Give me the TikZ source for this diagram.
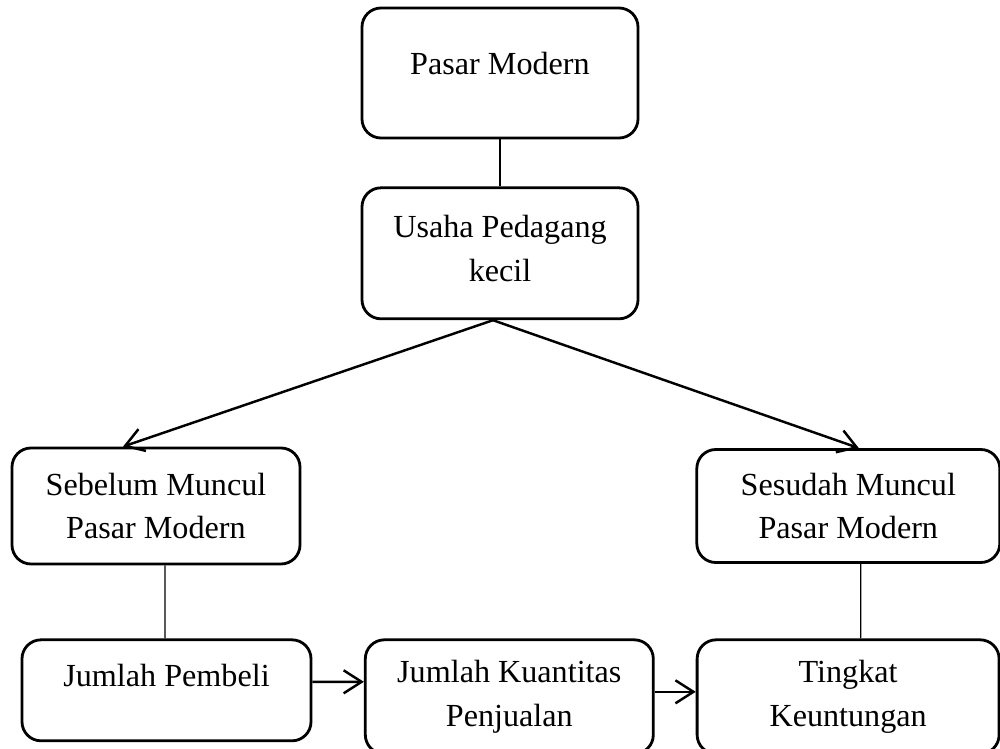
\documentclass[tikz,border=0pt]{standalone}
\usepackage{fontspec}
\setmainfont{Liberation Serif}
\usetikzlibrary{positioning, arrows.meta}
\tikzset{
box/.style={draw, line width=1.6pt, rounded corners=0.38cm, align=center, inner sep=0pt, font=\fontsize{18.3}{25}\selectfont}, % rounded boxes
link/.style={line width=0.7pt}, % plain connecting line
flow/.style={line width=1.4pt, -{Straight Barb[length=3.6mm,width=4.6mm]}}, % open arrow
}

\begin{document}
\begin{tikzpicture}
            \useasboundingbox (0,0) rectangle (20,-14.98);
            \node[box, minimum width=5.52cm, minimum height=2.6cm, text depth=0.4cm] (pasar) at (10,-1.46) {Pasar Modern};
            \node[box, below=0.94cm of pasar, minimum width=5.52cm, minimum height=2.62cm, text depth=0.2cm] (usaha) {Usaha Pedagang\\kecil};
            \node[box, minimum width=5.76cm, minimum height=2.32cm] (sebelum) at (3.12,-10.12) {Sebelum Muncul\\Pasar Modern};
            \node[box, right=7.88cm of sebelum, minimum width=6.06cm, minimum height=2.26cm] (sesudah) {Sesudah Muncul\\Pasar Modern};
            \node[box, below=1.46cm of sebelum, xshift=0.21cm, minimum width=5.78cm, minimum height=2.02cm, text depth=0.6cm] (pembeli) {Jumlah Pembeli};
            \node[box, right=1.03cm of pembeli.north east, anchor=north west, minimum width=5.76cm, minimum height=2.28cm] (kuantitas) {Jumlah Kuantitas\\Penjualan};
            \node[box, right=0.82cm of kuantitas.north east, anchor=north west, minimum width=6.04cm, minimum height=2.28cm] (tingkat) {Tingkat\\Keuntungan};
            \draw[link] (pasar.south) -- (usaha.north);
            \draw[flow] ([xshift=-0.14cm]usaha.south) -- ([xshift=-0.66cm]sebelum.north);
            \draw[flow] ([xshift=-0.14cm]usaha.south) -- ([xshift=0.21cm]sesudah.north);
            \draw[link] ([xshift=0.18cm]sebelum.south) -- ([xshift=-0.03cm]pembeli.north);
            \draw[link] ([xshift=0.25cm]sesudah.south) -- ([xshift=0.25cm]tingkat.north);
            \draw[flow] ([yshift=0.17cm]pembeli.east) -- ([yshift=0.3cm]kuantitas.west);
            \draw[flow] ([yshift=0.1cm]kuantitas.east) -- ([yshift=0.1cm]tingkat.west);
\end{tikzpicture}
\end{document}
